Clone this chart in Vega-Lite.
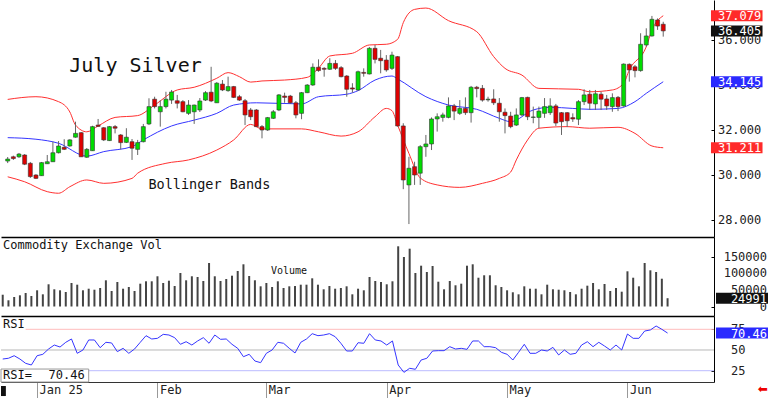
{
"$schema": "https://vega.github.io/schema/vega-lite/v6.json",
"padding": 0,
"spacing": 0,
"bounds": "flush",
"background": "white",
"resolve": {"scale": {"y": "independent", "color": "independent"}},
"config": {"view": {"stroke": null}, "font": "DejaVu Sans Mono", "text": {"font": "DejaVu Sans Mono"}},
"datasets": {
"bars": [
{"k":0,"o":30.62,"h":30.80,"l":30.53,"c":30.71,"v":35500,"r":39.1},
{"k":1,"o":30.81,"h":30.86,"l":30.67,"c":30.73,"v":18700,"r":40.0},
{"k":2,"o":30.81,"h":30.98,"l":30.76,"c":30.93,"v":28600,"r":43.1},
{"k":3,"o":30.89,"h":30.93,"l":30.44,"c":30.48,"v":33700,"r":39.1},
{"k":4,"o":30.52,"h":30.58,"l":29.87,"c":29.93,"v":40700,"r":33.9},
{"k":5,"o":30.00,"h":30.04,"l":29.82,"c":29.85,"v":31600,"r":31.9},
{"k":6,"o":29.97,"h":30.58,"l":29.96,"c":30.55,"v":48800,"r":43.1},
{"k":7,"o":30.50,"h":30.89,"l":30.49,"c":30.59,"v":36700,"r":44.8},
{"k":8,"o":30.59,"h":31.48,"l":30.58,"c":30.99,"v":66900,"r":51.2},
{"k":9,"o":30.99,"h":31.51,"l":30.96,"c":31.29,"v":51800,"r":56.0},
{"k":10,"o":31.23,"h":31.59,"l":31.11,"c":31.14,"v":48800,"r":53.6},
{"k":11,"o":31.29,"h":31.59,"l":31.26,"c":31.56,"v":43700,"r":59.3},
{"k":12,"o":31.68,"h":32.37,"l":31.66,"c":31.85,"v":70800,"r":63.3},
{"k":13,"o":31.88,"h":31.91,"l":30.80,"c":30.81,"v":65700,"r":46.0},
{"k":14,"o":30.79,"h":31.20,"l":30.76,"c":31.14,"v":48800,"r":50.0},
{"k":15,"o":31.08,"h":32.19,"l":31.07,"c":32.15,"v":53600,"r":62.1},
{"k":16,"o":32.22,"h":32.49,"l":32.15,"c":32.16,"v":50600,"r":62.1},
{"k":17,"o":32.10,"h":32.13,"l":31.51,"c":31.56,"v":55700,"r":52.8},
{"k":18,"o":31.53,"h":32.18,"l":31.51,"c":32.15,"v":78900,"r":59.3},
{"k":19,"o":32.15,"h":32.22,"l":31.85,"c":32.08,"v":46700,"r":58.5},
{"k":20,"o":31.78,"h":31.82,"l":31.14,"c":31.44,"v":73800,"r":48.0},
{"k":21,"o":31.45,"h":32.08,"l":31.42,"c":31.68,"v":53600,"r":52.0},
{"k":22,"o":31.48,"h":31.60,"l":30.67,"c":31.19,"v":58700,"r":46.0},
{"k":23,"o":31.14,"h":31.56,"l":30.89,"c":31.44,"v":46700,"r":51.2},
{"k":24,"o":31.48,"h":32.27,"l":31.45,"c":32.15,"v":68700,"r":59.3},
{"k":25,"o":32.27,"h":33.41,"l":32.22,"c":33.04,"v":75900,"r":67.3},
{"k":26,"o":33.37,"h":33.48,"l":32.96,"c":33.04,"v":75900,"r":63.3},
{"k":27,"o":32.81,"h":33.33,"l":32.15,"c":33.04,"v":91000,"r":64.1},
{"k":28,"o":33.04,"h":33.70,"l":32.96,"c":33.37,"v":70800,"r":68.9},
{"k":29,"o":33.33,"h":33.78,"l":33.16,"c":33.69,"v":77700,"r":68.1},
{"k":30,"o":33.30,"h":33.56,"l":32.96,"c":33.19,"v":61700,"r":64.9},
{"k":31,"o":33.26,"h":33.33,"l":32.79,"c":32.81,"v":100900,"r":56.9},
{"k":32,"o":32.74,"h":33.33,"l":32.67,"c":33.11,"v":78900,"r":60.0},
{"k":33,"o":32.81,"h":33.13,"l":32.27,"c":33.11,"v":91000,"r":56.0},
{"k":34,"o":32.89,"h":33.42,"l":32.80,"c":33.29,"v":88900,"r":60.9},
{"k":35,"o":33.33,"h":33.73,"l":33.29,"c":33.66,"v":76800,"r":64.9},
{"k":36,"o":33.68,"h":34.81,"l":33.24,"c":33.29,"v":131000,"r":58.1},
{"k":37,"o":33.21,"h":34.13,"l":33.20,"c":34.08,"v":91000,"r":68.1},
{"k":38,"o":34.04,"h":34.22,"l":33.73,"c":33.78,"v":76800,"r":62.9},
{"k":39,"o":33.75,"h":34.37,"l":33.70,"c":33.93,"v":82800,"r":63.3},
{"k":40,"o":33.93,"h":33.96,"l":33.42,"c":33.45,"v":92800,"r":56.9},
{"k":41,"o":33.48,"h":33.56,"l":33.29,"c":33.33,"v":106900,"r":52.0},
{"k":42,"o":33.30,"h":33.38,"l":32.22,"c":32.67,"v":127100,"r":41.9},
{"k":43,"o":32.89,"h":32.98,"l":32.44,"c":32.59,"v":91900,"r":44.8},
{"k":44,"o":32.89,"h":32.93,"l":32.13,"c":32.15,"v":78900,"r":36.7},
{"k":45,"o":32.15,"h":32.22,"l":31.63,"c":32.00,"v":60800,"r":34.7},
{"k":46,"o":32.00,"h":32.58,"l":31.96,"c":32.55,"v":70800,"r":46.0},
{"k":47,"o":32.52,"h":32.89,"l":32.49,"c":32.81,"v":58700,"r":50.0},
{"k":48,"o":32.89,"h":33.60,"l":32.84,"c":33.56,"v":75900,"r":59.3},
{"k":49,"o":33.51,"h":33.66,"l":33.21,"c":33.45,"v":55700,"r":58.1},
{"k":50,"o":33.51,"h":33.56,"l":33.16,"c":33.21,"v":60800,"r":52.0},
{"k":51,"o":33.21,"h":33.29,"l":32.52,"c":32.67,"v":61700,"r":46.4},
{"k":52,"o":32.74,"h":33.69,"l":32.48,"c":33.66,"v":65700,"r":59.3},
{"k":53,"o":33.66,"h":34.04,"l":33.64,"c":34.00,"v":65700,"r":63.3},
{"k":54,"o":34.00,"h":34.96,"l":33.96,"c":34.79,"v":84900,"r":69.7},
{"k":55,"o":34.79,"h":35.14,"l":34.59,"c":34.64,"v":65700,"r":67.3},
{"k":56,"o":34.74,"h":34.79,"l":34.37,"c":34.70,"v":51800,"r":68.1},
{"k":57,"o":34.70,"h":35.19,"l":34.67,"c":34.96,"v":61700,"r":69.7},
{"k":58,"o":34.96,"h":35.11,"l":34.67,"c":34.74,"v":53600,"r":66.1},
{"k":59,"o":34.77,"h":34.84,"l":34.34,"c":34.37,"v":55700,"r":58.1},
{"k":60,"o":34.40,"h":34.44,"l":33.48,"c":33.81,"v":60800,"r":48.8},
{"k":61,"o":33.87,"h":34.08,"l":33.66,"c":33.82,"v":36700,"r":48.8},
{"k":62,"o":33.78,"h":34.64,"l":33.75,"c":34.59,"v":53600,"r":58.8},
{"k":63,"o":34.56,"h":34.74,"l":34.37,"c":34.52,"v":48800,"r":58.1},
{"k":64,"o":34.49,"h":35.69,"l":34.47,"c":35.63,"v":88900,"r":69.7},
{"k":65,"o":35.63,"h":35.78,"l":34.96,"c":35.14,"v":76800,"r":62.1},
{"k":66,"o":35.19,"h":35.56,"l":34.52,"c":35.08,"v":73800,"r":60.9},
{"k":67,"o":35.11,"h":35.33,"l":34.59,"c":34.67,"v":66900,"r":56.0},
{"k":68,"o":34.74,"h":35.48,"l":34.67,"c":35.33,"v":75900,"r":60.9},
{"k":69,"o":35.26,"h":35.29,"l":32.15,"c":32.18,"v":181300,"r":31.9},
{"k":70,"o":32.18,"h":32.30,"l":29.37,"c":29.78,"v":149100,"r":23.0},
{"k":71,"o":29.56,"h":30.81,"l":27.82,"c":30.30,"v":174100,"r":27.9},
{"k":72,"o":30.37,"h":30.59,"l":29.56,"c":30.00,"v":100900,"r":26.7},
{"k":73,"o":30.08,"h":31.33,"l":29.56,"c":31.26,"v":122900,"r":37.9},
{"k":74,"o":31.26,"h":31.78,"l":30.81,"c":31.38,"v":103900,"r":40.0},
{"k":75,"o":31.38,"h":32.56,"l":31.11,"c":32.49,"v":122000,"r":48.8},
{"k":76,"o":32.49,"h":32.74,"l":31.93,"c":32.59,"v":74700,"r":49.2},
{"k":77,"o":32.56,"h":32.77,"l":32.37,"c":32.67,"v":51800,"r":49.2},
{"k":78,"o":32.56,"h":33.45,"l":32.52,"c":33.07,"v":76800,"r":54.0},
{"k":79,"o":33.07,"h":33.16,"l":32.44,"c":32.84,"v":63900,"r":51.2},
{"k":80,"o":32.74,"h":33.33,"l":32.67,"c":32.96,"v":68700,"r":52.0},
{"k":81,"o":32.96,"h":33.45,"l":32.67,"c":32.77,"v":122900,"r":50.8},
{"k":82,"o":32.77,"h":33.96,"l":32.33,"c":33.90,"v":127100,"r":60.9},
{"k":83,"o":33.90,"h":33.96,"l":33.45,"c":33.84,"v":86700,"r":60.9},
{"k":84,"o":33.85,"h":34.00,"l":33.26,"c":33.33,"v":94000,"r":54.0},
{"k":85,"o":33.34,"h":33.48,"l":33.26,"c":33.37,"v":94000,"r":54.0},
{"k":86,"o":33.38,"h":33.81,"l":33.11,"c":33.21,"v":63900,"r":52.8},
{"k":87,"o":33.19,"h":33.42,"l":32.37,"c":32.81,"v":58700,"r":47.2},
{"k":88,"o":32.79,"h":32.96,"l":31.85,"c":32.64,"v":48800,"r":44.8},
{"k":89,"o":32.62,"h":32.81,"l":32.08,"c":32.15,"v":42800,"r":37.9},
{"k":90,"o":32.22,"h":32.96,"l":32.18,"c":32.67,"v":36700,"r":47.2},
{"k":91,"o":32.67,"h":33.47,"l":32.62,"c":33.44,"v":60800,"r":56.9},
{"k":92,"o":33.45,"h":33.48,"l":32.44,"c":32.59,"v":53600,"r":46.0},
{"k":93,"o":32.56,"h":33.04,"l":32.30,"c":32.58,"v":53600,"r":46.0},
{"k":94,"o":32.56,"h":33.04,"l":32.08,"c":32.84,"v":36700,"r":50.0},
{"k":95,"o":32.74,"h":33.42,"l":32.54,"c":33.04,"v":65700,"r":48.8},
{"k":96,"o":32.77,"h":33.41,"l":32.67,"c":33.07,"v":51800,"r":53.2},
{"k":97,"o":33.07,"h":33.16,"l":32.18,"c":32.31,"v":50600,"r":44.0},
{"k":98,"o":32.77,"h":32.80,"l":31.78,"c":32.37,"v":48800,"r":50.0},
{"k":99,"o":32.77,"h":32.80,"l":32.13,"c":32.41,"v":43700,"r":44.8},
{"k":100,"o":32.55,"h":32.74,"l":32.36,"c":32.49,"v":36700,"r":46.0},
{"k":101,"o":32.48,"h":33.33,"l":32.22,"c":33.26,"v":53600,"r":56.0},
{"k":102,"o":33.26,"h":33.81,"l":33.11,"c":33.56,"v":62700,"r":60.0},
{"k":103,"o":33.59,"h":33.78,"l":32.89,"c":33.19,"v":70800,"r":54.0},
{"k":104,"o":33.16,"h":33.78,"l":32.89,"c":33.61,"v":51800,"r":59.3},
{"k":105,"o":33.59,"h":33.70,"l":32.89,"c":33.37,"v":67800,"r":54.8},
{"k":106,"o":33.38,"h":33.56,"l":32.89,"c":33.07,"v":46700,"r":50.0},
{"k":107,"o":33.04,"h":33.63,"l":32.81,"c":33.44,"v":55700,"r":56.0},
{"k":108,"o":33.45,"h":33.51,"l":32.84,"c":33.04,"v":44600,"r":50.0},
{"k":109,"o":33.07,"h":34.96,"l":33.04,"c":34.93,"v":106000,"r":69.3},
{"k":110,"o":34.92,"h":34.96,"l":34.15,"c":34.67,"v":86700,"r":64.1},
{"k":111,"o":34.81,"h":34.89,"l":34.34,"c":34.64,"v":60800,"r":64.1},
{"k":112,"o":34.64,"h":36.30,"l":34.59,"c":35.81,"v":131000,"r":72.9},
{"k":113,"o":35.78,"h":36.52,"l":35.70,"c":36.18,"v":109000,"r":74.2},
{"k":114,"o":36.18,"h":37.07,"l":36.15,"c":36.92,"v":103900,"r":79.0},
{"k":115,"o":36.89,"h":36.96,"l":36.45,"c":36.62,"v":83700,"r":75.0},
{"k":116,"o":36.70,"h":36.81,"l":36.15,"c":36.405,"v":24991,"r":70.46}
],
"upper": [
{"k":0,"p":33.36},{"k":5,"p":33.48},{"k":9,"p":33.26},{"k":11,"p":32.80},{"k":12,"p":32.22},{"k":14,"p":31.92},{"k":16,"p":32.18},{"k":19,"p":32.56},{"k":23,"p":32.64},{"k":26,"p":33.11},{"k":30,"p":33.78},{"k":33,"p":33.90},{"k":37,"p":34.30},{"k":39,"p":34.55},{"k":41,"p":34.37},{"k":43,"p":34.13},{"k":45,"p":34.18},{"k":49,"p":34.22},{"k":53,"p":34.34},{"k":55,"p":34.75},{"k":57,"p":35.29},{"k":61,"p":35.41},{"k":64,"p":35.78},{"k":67,"p":35.81},{"k":69,"p":36.03},{"k":70,"p":36.77},{"k":72,"p":37.36},{"k":74,"p":37.42},{"k":78,"p":36.86},{"k":83,"p":36.37},{"k":86,"p":35.26},{"k":88,"p":34.74},{"k":91,"p":34.44},{"k":94,"p":33.85},{"k":101,"p":33.81},{"k":103,"p":33.70},{"k":107,"p":33.78},{"k":109,"p":34.08},{"k":110,"p":34.67},{"k":113,"p":35.70},{"k":114,"p":36.44},{"k":116,"p":37.079}
],
"middle": [
{"k":0,"p":31.66},{"k":5,"p":31.59},{"k":9,"p":31.41},{"k":14,"p":30.84},{"k":17,"p":31.04},{"k":22,"p":31.26},{"k":24,"p":31.56},{"k":29,"p":32.18},{"k":33,"p":32.44},{"k":37,"p":32.74},{"k":40,"p":33.11},{"k":44,"p":33.21},{"k":52,"p":33.16},{"k":55,"p":33.48},{"k":60,"p":33.59},{"k":62,"p":33.75},{"k":65,"p":34.22},{"k":68,"p":34.40},{"k":69,"p":34.27},{"k":74,"p":33.48},{"k":78,"p":33.11},{"k":83,"p":32.92},{"k":87,"p":32.52},{"k":89,"p":32.37},{"k":93,"p":32.89},{"k":96,"p":33.01},{"k":100,"p":32.96},{"k":103,"p":32.92},{"k":108,"p":32.96},{"k":111,"p":33.26},{"k":113,"p":33.63},{"k":116,"p":34.145}
],
"lower": [
{"k":0,"p":29.92},{"k":3,"p":29.70},{"k":7,"p":29.26},{"k":9,"p":29.19},{"k":11,"p":29.48},{"k":14,"p":29.78},{"k":17,"p":29.63},{"k":22,"p":29.85},{"k":23,"p":30.08},{"k":28,"p":30.52},{"k":32,"p":30.67},{"k":37,"p":31.11},{"k":40,"p":31.56},{"k":43,"p":32.25},{"k":45,"p":32.05},{"k":52,"p":32.05},{"k":55,"p":31.92},{"k":59,"p":31.73},{"k":62,"p":31.92},{"k":65,"p":32.59},{"k":67,"p":32.96},{"k":68,"p":32.86},{"k":69,"p":32.22},{"k":71,"p":30.96},{"k":73,"p":29.87},{"k":76,"p":29.56},{"k":80,"p":29.45},{"k":84,"p":29.63},{"k":87,"p":29.85},{"k":89,"p":30.13},{"k":90,"p":30.67},{"k":92,"p":31.56},{"k":94,"p":32.08},{"k":99,"p":32.15},{"k":103,"p":32.08},{"k":108,"p":32.12},{"k":111,"p":31.85},{"k":114,"p":31.29},{"k":116,"p":31.211}
]
},
"vconcat": [
{
"width": 713, "height": 237,
"layer": [
{"data": {"name": "upper"},
 "mark": {"type": "line", "color": "#ff3030", "strokeWidth": 1, "interpolate": "monotone"},
 "encoding": {
  "x": {"field": "k", "type": "quantitative", "scale": {"domain": [-0.3, 124.1], "nice": false, "zero": false},
        "axis": {"orient": "bottom", "ticks": false, "labels": false, "grid": false, "title": null, "domainColor": "#000", "domainWidth": 1.5}},
  "y": {"field": "p", "type": "quantitative", "scale": {"domain": [27.245, 37.778], "nice": false, "zero": false},
        "axis": {"orient": "right", "title": null, "grid": false, "labels": false,
                 "values": [28, 30, 32, 34, 36],
                 "tickSize": -3, "tickColor": "#000", "domainColor": "#000"}}
 }},
{"data": {"name": "lower"},
 "mark": {"type": "line", "color": "#ff3030", "strokeWidth": 1, "interpolate": "monotone"},
 "encoding": {"x": {"field": "k", "type": "quantitative"}, "y": {"field": "p", "type": "quantitative"}}},
{"data": {"name": "middle"},
 "mark": {"type": "line", "color": "#3535ff", "strokeWidth": 1, "interpolate": "monotone"},
 "encoding": {"x": {"field": "k", "type": "quantitative"}, "y": {"field": "p", "type": "quantitative"}}},
{"data": {"name": "bars"},
 "mark": {"type": "rule", "color": "#666666", "strokeWidth": 1},
 "encoding": {"x": {"field": "k", "type": "quantitative"}, "y": {"field": "l", "type": "quantitative"}, "y2": {"field": "h"}}},
{"data": {"name": "bars"},
 "mark": {"type": "bar", "size": 4, "stroke": "#333333", "strokeWidth": 0.6},
 "encoding": {"x": {"field": "k", "type": "quantitative"}, "y": {"field": "o", "type": "quantitative"}, "y2": {"field": "c"},
   "color": {"condition": {"test": "datum.c >= datum.o", "value": "#00dd00"}, "value": "#e00000"}}},
{"data": {"values": [{}]},
 "mark": {"type": "text", "text": "July Silver", "font": "DejaVu Sans Mono", "fontSize": 20, "align": "left", "baseline": "alphabetic", "color": "#111"},
 "encoding": {"x": {"datum": 10.9}, "y": {"datum": 34.58}}},
{"data": {"values": [{}]},
 "mark": {"type": "text", "text": "Bollinger Bands", "font": "DejaVu Sans Mono", "fontSize": 13.5, "align": "left", "baseline": "alphabetic", "color": "#111"},
 "encoding": {"x": {"datum": 24.9}, "y": {"datum": 29.40}}},
{"data": {"values": [{"t": 28}, {"t": 30}, {"t": 32}, {"t": 34}, {"t": 36}]},
 "mark": {"type": "text", "align": "right", "baseline": "middle", "color": "#222", "font": "DejaVu Sans Mono", "fontSize": 12},
 "encoding": {"x": {"datum": 133.35}, "y": {"field": "t", "type": "quantitative"}, "text": {"field": "t", "type": "quantitative", "format": ".3f"}}},
{"data": {"values": [{"val": 37.079, "kind": "upper"}, {"val": 36.405, "kind": "close"}, {"val": 34.145, "kind": "middle"}, {"val": 31.211, "kind": "lower"}]},
 "mark": {"type": "rect", "yOffset": -5.5, "y2Offset": 5.5},
 "encoding": {"x": {"datum": 124.45}, "x2": {"datum": 133.57}, "y": {"field": "val", "type": "quantitative"}, "y2": {"field": "val"},
   "color": {"field": "kind", "type": "nominal", "scale": {"domain": ["upper", "close", "middle", "lower"], "range": ["#ff2a2a", "#111111", "#2a2aff", "#ff2a2a"]}, "legend": null}}},
{"data": {"values": [{"val": 37.079}, {"val": 36.405}, {"val": 34.145}, {"val": 31.211}]},
 "mark": {"type": "text", "align": "right", "baseline": "middle", "color": "white", "font": "DejaVu Sans Mono", "fontSize": 12, "dy": 0.5},
 "encoding": {"x": {"datum": 133.35}, "y": {"field": "val", "type": "quantitative"}, "text": {"field": "val", "type": "quantitative", "format": ".3f"}}}
]
},
{
"width": 713, "height": 79,
"layer": [
{"data": {"name": "bars"},
 "mark": {"type": "rule", "color": "#444444", "strokeWidth": 2},
 "encoding": {
  "x": {"field": "k", "type": "quantitative", "scale": {"domain": [-0.3, 124.1], "nice": false, "zero": false},
        "axis": {"orient": "bottom", "ticks": false, "labels": false, "grid": false, "title": null, "domainColor": "#000", "domainWidth": 1.5}},
  "y": {"field": "v", "type": "quantitative", "scale": {"domain": [-28600, 209300], "nice": false, "zero": false},
        "axis": {"orient": "right", "title": null, "grid": false, "labels": false,
                 "values": [0, 50000, 100000, 150000],
                 "tickSize": -3, "tickColor": "#000", "domainColor": "#000"}},
  "y2": {"datum": 0}
 }},
{"data": {"values": [{}]},
 "mark": {"type": "text", "text": "Commodity Exchange Vol", "font": "DejaVu Sans Mono", "fontSize": 12, "align": "left", "baseline": "alphabetic", "color": "#111"},
 "encoding": {"x": {"datum": 0.05}, "y": {"datum": 173200}}},
{"data": {"values": [{}]},
 "mark": {"type": "text", "text": "Volume", "font": "DejaVu Sans Mono", "fontSize": 10, "align": "left", "baseline": "alphabetic", "color": "#111"},
 "encoding": {"x": {"datum": 46.8}, "y": {"datum": 97900}}},
{"data": {"values": [{"t": 0}, {"t": 50000}, {"t": 100000}, {"t": 150000}]},
 "mark": {"type": "text", "align": "right", "baseline": "middle", "color": "#222", "font": "DejaVu Sans Mono", "fontSize": 12},
 "encoding": {"x": {"datum": 133.35}, "y": {"field": "t", "type": "quantitative"}, "text": {"field": "t", "type": "quantitative", "format": "d"}}},
{"data": {"values": [{"val": 24991}]},
 "mark": {"type": "rect", "color": "#111111", "yOffset": -5.5, "y2Offset": 5.5},
 "encoding": {"x": {"datum": 124.45}, "x2": {"datum": 133.57}, "y": {"field": "val", "type": "quantitative"}, "y2": {"field": "val"}}},
{"data": {"values": [{"val": 24991}]},
 "mark": {"type": "text", "align": "right", "baseline": "middle", "color": "white", "font": "DejaVu Sans Mono", "fontSize": 12, "dy": 0.5},
 "encoding": {"x": {"datum": 133.35}, "y": {"field": "val", "type": "quantitative"}, "text": {"field": "val", "type": "quantitative", "format": "d"}}}
]
},
{
"width": 713, "height": 66,
"layer": [
{"data": {"values": [{}]},
 "mark": {"type": "rule", "color": "#b8b8b8", "strokeWidth": 1},
 "encoding": {
  "x": {"datum": -0.3, "scale": {"domain": [-0.3, 124.1], "nice": false, "zero": false},
        "axis": {"orient": "bottom", "grid": false, "title": null,
                 "values": [6, 27, 46, 67, 88, 109],
                 "labelExpr": "datum.value == 6 ? 'Jan 25' : datum.value == 27 ? 'Feb' : datum.value == 46 ? 'Mar' : datum.value == 67 ? 'Apr' : datum.value == 88 ? 'May' : 'Jun'",
                 "tickSize": 16, "tickColor": "#999999", "domainColor": "#333", "labelAlign": "left", "labelBaseline": "top", "labelPadding": -14, "labelOffset": 2,
                 "labelFont": "DejaVu Sans Mono", "labelFontSize": 12, "labelColor": "#222", "labelOverlap": false, "labelFlush": false}},
  "x2": {"datum": 124.1},
  "y": {"datum": 50, "scale": {"domain": [11.35, 91.06], "nice": false, "zero": false},
        "axis": {"orient": "right", "title": null, "grid": false, "labels": false,
                 "values": [25, 50, 75],
                 "tickSize": -3, "tickColor": "#000", "domainColor": "#000"}}
 }},
{"data": {"values": [{}]},
 "mark": {"type": "rule", "color": "#ffbcbc", "strokeWidth": 1},
 "encoding": {"x": {"datum": 4.0}, "x2": {"datum": 124.1}, "y": {"datum": 75}}},
{"data": {"values": [{}]},
 "mark": {"type": "rule", "color": "#bcbcff", "strokeWidth": 1},
 "encoding": {"x": {"datum": 15.0}, "x2": {"datum": 124.1}, "y": {"datum": 25}}},
{"data": {"name": "bars"},
 "mark": {"type": "line", "color": "#3535ff", "strokeWidth": 1},
 "encoding": {"x": {"field": "k", "type": "quantitative"}, "y": {"field": "r", "type": "quantitative"}}},
{"data": {"values": [{}]},
 "mark": {"type": "rect", "fill": "white", "stroke": "#999999", "strokeWidth": 1},
 "encoding": {"x": {"datum": -0.3}, "x2": {"datum": 15.0}, "y": {"datum": 27.0}, "y2": {"datum": 11.35}}},
{"data": {"values": [{}]},
 "mark": {"type": "text", "text": "RSI=", "font": "DejaVu Sans Mono", "fontSize": 12, "align": "left", "baseline": "alphabetic", "color": "#111"},
 "encoding": {"x": {"datum": 0.05}, "y": {"datum": 15.0}}},
{"data": {"values": [{}]},
 "mark": {"type": "text", "text": "70.46", "font": "DejaVu Sans Mono", "fontSize": 12, "align": "right", "baseline": "alphabetic", "color": "#111"},
 "encoding": {"x": {"datum": 14.3}, "y": {"datum": 15.0}}},
{"data": {"values": [{}]},
 "mark": {"type": "text", "text": "RSI", "font": "DejaVu Sans Mono", "fontSize": 12, "align": "left", "baseline": "alphabetic", "color": "#111"},
 "encoding": {"x": {"datum": 0.05}, "y": {"datum": 76.0}}},
{"data": {"values": [{"t": 25}, {"t": 50}, {"t": 75}]},
 "mark": {"type": "text", "align": "left", "baseline": "middle", "color": "#222", "font": "DejaVu Sans Mono", "fontSize": 12},
 "encoding": {"x": {"datum": 127.05}, "y": {"field": "t", "type": "quantitative"}, "text": {"field": "t", "type": "quantitative", "format": "d"}}},
{"data": {"values": [{"val": 70.46}]},
 "mark": {"type": "rect", "color": "#2a2aff", "yOffset": -5.5, "y2Offset": 5.5},
 "encoding": {"x": {"datum": 124.45}, "x2": {"datum": 133.57}, "y": {"field": "val", "type": "quantitative"}, "y2": {"field": "val"}}},
{"data": {"values": [{"val": 70.46}]},
 "mark": {"type": "text", "align": "right", "baseline": "middle", "color": "white", "font": "DejaVu Sans Mono", "fontSize": 12, "dy": 0.5},
 "encoding": {"x": {"datum": 133.35}, "y": {"field": "val", "type": "quantitative"}, "text": {"field": "val", "type": "quantitative", "format": ".2f"}}},
{"data": {"values": [{}]},
 "mark": {"type": "text", "text": "⬅", "font": "DejaVu Sans", "fontSize": 12, "align": "center", "baseline": "middle", "color": "#ee0000"},
 "encoding": {"x": {"datum": 132.6}, "y": {"datum": 2.9}}},
{"data": {"values": [{}]},
 "mark": {"type": "rect", "color": "#111111"},
 "encoding": {"x": {"datum": -0.3}, "x2": {"datum": 0.55}, "y": {"datum": 6.5}, "y2": {"datum": -5.6}}}
]
}
]
}
